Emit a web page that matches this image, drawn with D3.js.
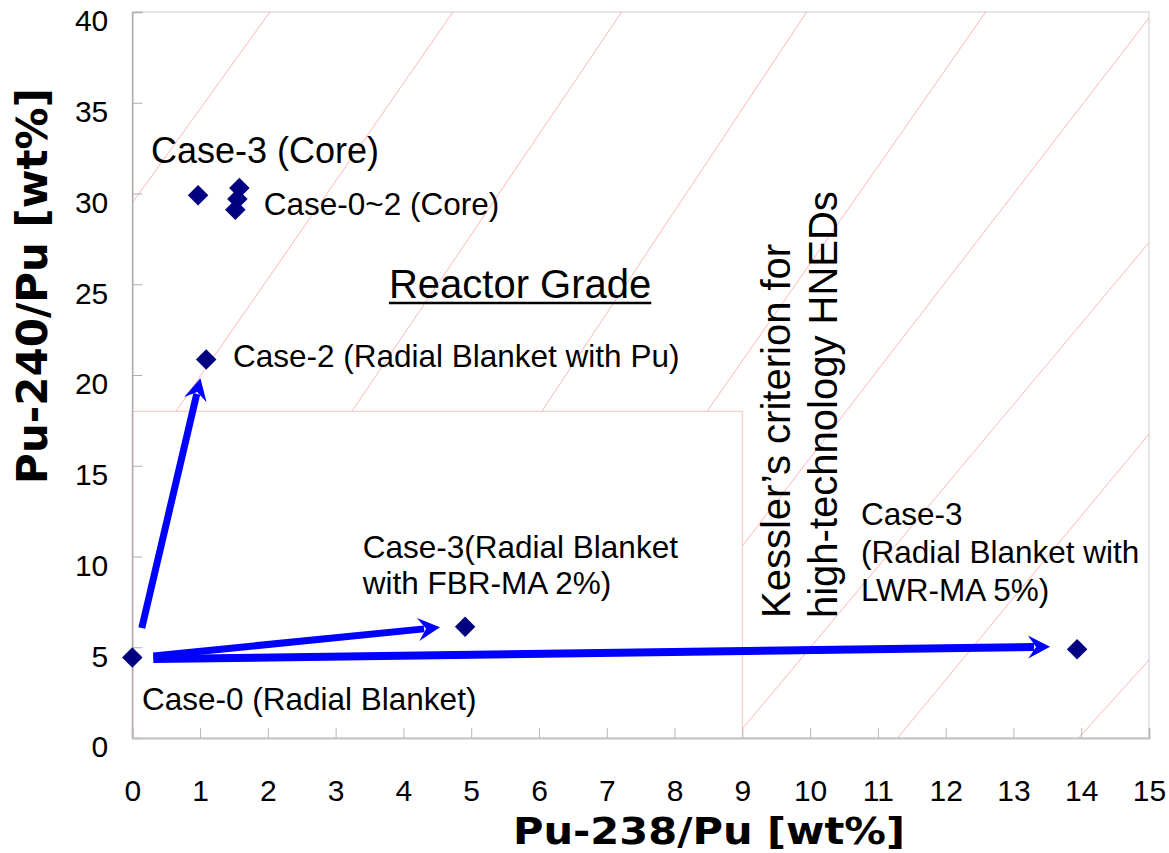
<!DOCTYPE html>
<html>
<head>
<meta charset="utf-8">
<script src="https://cdn.jsdelivr.net/npm/d3@7/dist/d3.min.js"></script>
<style>
  body { margin: 0; background: #fff; }
  text { font-family: "Liberation Sans", Arial, sans-serif; fill: #000; }
</style>
</head>
<body>
<script>
// ---------------- data ----------------
const xTickValues = [0,1,2,3,4,5,6,7,8,9,10,11,12,13,14,15];
const yTickValues = [0,5,10,15,20,25,30,35,40];

const caseNames = ["Case-3 (Core)", "Case-0 (Core)", "Case-1 (Core)", "Case-2 (Core)",
  "Case-0 (Radial Blanket)", "Case-2 (Radial Blanket with Pu)",
  "Case-3 (Radial Blanket with FBR-MA 2%)", "Case-3 (Radial Blanket with LWR-MA 5%)"];
const pu238 = [0.97, 1.58, 1.55, 1.52, 0.00, 1.09, 4.91, 13.94];
const pu240 = [29.9, 30.3, 29.7, 29.1, 4.43, 20.86, 6.13, 4.89];

// arrows (from -> to, data units)
const arrowFromX = [0.14, 0.31, 0.31];
const arrowFromY = [6.06, 4.52, 4.35];
const arrowToX   = [1.005, 4.54, 13.54];
const arrowToY   = [19.82, 6.10, 5.03];

// Kessler criterion boundary (non reactor-grade box)
const kesslerPu238 = 9;
const kesslerPu240 = 18;

// hatch lines of the "Reactor Grade" region (data units)
const hatchX1 = [2.03, 4.73, 7.22, 9.95, 12.59, 15.0, 15.0, 15.0, 15.0];
const hatchY1 = [40, 40, 40, 40, 40, 39.67, 27.3, 16.75, 4.3];
const hatchX2 = [0.00, 0.645, 3.24, 6.04, 8.48, 9.0, 9.0, 11.29, 13.96];
const hatchY2 = [29.48, 18, 18, 18, 18, 10.58, 0.5, 0, 0];

// ---------------- drawing ----------------
const W = 1169, H = 853;
const svg = d3.select("body").append("svg").attr("width", W).attr("height", H);

const x = d3.scaleLinear().domain([0, 15]).range([132.3, 1149]);
const y = d3.scaleLinear().domain([0, 40]).range([738, 12]);

svg.append("defs").append("clipPath").attr("id", "plotclip")
  .append("rect").attr("x", x(0)).attr("y", y(40))
  .attr("width", x(15) - x(0)).attr("height", y(0) - y(40));

// plot border
svg.append("rect").attr("x", x(0)).attr("y", y(40))
  .attr("width", x(15) - x(0)).attr("height", y(0) - y(40))
  .attr("fill", "#fff").attr("stroke", "#d4d4d4").attr("stroke-width", 1.2);

// hatch
const hatch = svg.append("g").attr("clip-path", "url(#plotclip)");
hatch.selectAll("line").data(hatchX1).join("line")
  .attr("x1", (d, i) => x(hatchX1[i])).attr("y1", (d, i) => y(hatchY1[i]))
  .attr("x2", (d, i) => x(hatchX2[i])).attr("y2", (d, i) => y(hatchY2[i]))
  .attr("stroke", "#ff8c8c").attr("stroke-width", 0.8).attr("stroke-opacity", 0.8);

// non-reactor-grade box
svg.append("rect").attr("x", x(0)).attr("y", y(kesslerPu240))
  .attr("width", x(kesslerPu238) - x(0)).attr("height", y(0) - y(kesslerPu240))
  .attr("fill", "#fff").attr("stroke", "#f6c4c4").attr("stroke-width", 1);

// axes
const yAxis = d3.axisLeft(y).tickValues(yTickValues).tickSize(-10).tickPadding(24).tickFormat(d3.format("d"));
const gy = svg.append("g").attr("transform", `translate(${x(0)},0)`).call(yAxis);
gy.select(".domain").attr("stroke", "#a6a6a6").attr("stroke-width", 1.3);
gy.selectAll(".tick line").attr("stroke", "#b0b0b0");
gy.selectAll(".tick text").attr("font-size", 30).attr("dy", "0.63em")
  .style("font-family", "'Liberation Sans', Arial, sans-serif");

const xAxis = d3.axisBottom(x).tickValues(xTickValues).tickSize(-10).tickFormat(d3.format("d"));
const gx = svg.append("g").attr("transform", `translate(0,${y(0)})`).call(xAxis);
gx.select(".domain").attr("stroke", "#c4c4c4").attr("stroke-width", 2);
gx.selectAll(".tick line").attr("stroke", "#b8b8b8");
gx.selectAll(".tick text").attr("font-size", 30).attr("y", 63).attr("dy", 0)
  .style("font-family", "'Liberation Sans', Arial, sans-serif");

// axis titles
svg.append("text").attr("x", 709).attr("y", 844).attr("text-anchor", "middle")
  .style("font-family", "'DejaVu Sans', sans-serif").attr("font-weight", "bold")
  .attr("font-size", 38).attr("textLength", 392).attr("lengthAdjust", "spacingAndGlyphs")
  .text("Pu-238/Pu [wt%]");
svg.append("text").attr("transform", "translate(47,286) rotate(-90)").attr("text-anchor", "middle")
  .style("font-family", "'DejaVu Sans', sans-serif").attr("font-weight", "bold")
  .attr("font-size", 42).text("Pu-240/Pu [wt%]");

// arrows
const arrows = svg.append("g");
arrowFromX.forEach((d, i) => {
  const x0 = x(arrowFromX[i]), y0 = y(arrowFromY[i]);
  const x1 = x(arrowToX[i]), y1 = y(arrowToY[i]);
  const len = Math.hypot(x1 - x0, y1 - y0);
  const ux = (x1 - x0) / len, uy = (y1 - y0) / len;
  const nx = -uy, ny = ux;
  const L = 22, Wd = 11.5, N = 14;
  arrows.append("line")
    .attr("x1", x0).attr("y1", y0)
    .attr("x2", x1 - ux * (N + 2)).attr("y2", y1 - uy * (N + 2))
    .attr("stroke", "#0000ff").attr("stroke-width", i === 2 ? 8 : 7);
  const p = [
    [x1, y1],
    [x1 - ux * L + nx * Wd, y1 - uy * L + ny * Wd],
    [x1 - ux * N, y1 - uy * N],
    [x1 - ux * L - nx * Wd, y1 - uy * L - ny * Wd]
  ];
  arrows.append("path").attr("d", "M" + p.map(q => q.join(",")).join("L") + "Z")
    .attr("fill", "#0000ff");
});

// points
svg.append("g").selectAll("path").data(pu238).join("path")
  .attr("d", d3.symbol(d3.symbolSquare, 210))
  .attr("transform", (d, i) => `translate(${x(pu238[i])},${y(pu240[i])}) rotate(45)`)
  .attr("fill", "#000080");

// annotations
const lab = svg.append("g");
function label(tx, ty, lines, size, lh) {
  const t = lab.append("text").attr("x", x(tx)).attr("y", y(ty)).attr("font-size", size);
  lines.forEach((s, k) => t.append("tspan").attr("x", x(tx)).attr("dy", k === 0 ? 0 : lh).text(s));
  return t;
}
label(0.276, 31.68, ["Case-3 (Core)"], 36, 0);
label(1.94, 28.82, ["Case-0~2 (Core)"], 31.5, 0);
const rg = label(3.786, 24.24, ["Reactor Grade"], 40, 0);
const rgw = rg.node().getComputedTextLength();
lab.append("line").attr("x1", x(3.786)).attr("x2", x(3.786) + rgw)
  .attr("y1", y(24.24) + 5).attr("y2", y(24.24) + 5)
  .attr("stroke", "#000").attr("stroke-width", 2.6);
label(1.485, 20.44, ["Case-2 (Radial Blanket with Pu)"], 31.5, 0);
label(3.40, 9.92, ["Case-3(Radial Blanket", "with FBR-MA 2%)"], 31.5, 36);
label(10.75, 11.74, ["Case-3", "(Radial Blanket with", "LWR-MA 5%)"], 31.5, 38);
label(0.143, 1.54, ["Case-0 (Radial Blanket)"], 31.5, 0);

// Kessler rotated label
const kx = x(9.70), ky = y(6.61);
const kt = lab.append("text").attr("transform", `translate(${kx},${ky}) rotate(-90)`).attr("font-size", 40);
kt.append("tspan").attr("x", 0).attr("y", 0).text("Kessler\u2019s criterion for");
kt.append("tspan").attr("x", 0).attr("y", 47).text("high-technology HNEDs");
</script>
</body>
</html>
